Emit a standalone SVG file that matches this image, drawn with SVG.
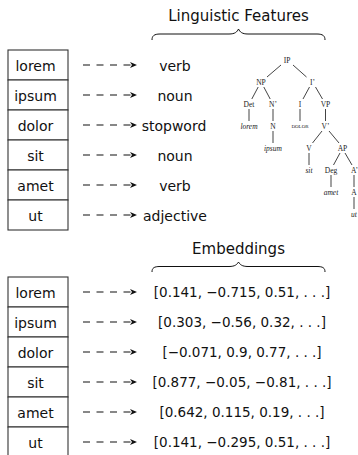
<svg xmlns="http://www.w3.org/2000/svg" width="358" height="455" viewBox="0 0 358 455">
<defs>
<marker id="ah" viewBox="-7 -3.5 7 7" refX="0" refY="0" markerWidth="7" markerHeight="7" markerUnits="userSpaceOnUse" orient="auto">
<path d="M-7,-3 L0,0 L-7,3 L-5,0 Z" fill="#111"/>
</marker>
</defs>
<style>
.cell{fill:#fff;stroke:#333;stroke-width:1.1}
.w{font-family:"DejaVu Sans",sans-serif;font-size:14px;fill:#111;text-anchor:middle}
.title{font-family:"DejaVu Sans",sans-serif;font-size:15px;fill:#111;text-anchor:middle}
.vec{font-family:"DejaVu Sans",sans-serif;font-size:13.5px;fill:#111;text-anchor:middle}
.arr{stroke:#111;stroke-width:1.1;stroke-dasharray:7 6.5;fill:none;marker-end:url(#ah)}
.brace{fill:none;stroke:#111;stroke-width:1}
.t{font-family:"Liberation Serif",serif;font-size:7.5px;fill:#222;text-anchor:middle}
.ti{font-family:"Liberation Serif",serif;font-size:7.5px;font-style:italic;fill:#222;text-anchor:middle}
.tsc{font-family:"Liberation Serif",serif;font-size:5px;fill:#222;text-anchor:middle}
.e{stroke:#222;stroke-width:0.85;fill:none}
</style>

<text class="title" x="238.5" y="21">Linguistic Features</text>
<path class="brace" d="M152,40 C152,36 154,34 160,34 L229,34 C235,34 237,32 238.5,29 C240,32 242,34 248,34 L317,34 C323,34 325,36 325,40"/>
<text class="title" x="238.5" y="254">Embeddings</text>
<path class="brace" d="M152,272 C152,268 154,266.5 160,266.5 L229,266.5 C235,266.5 237,264.5 238.5,262 C240,264.5 242,266.5 248,266.5 L317,266.5 C323,266.5 325,268 325,272"/>

<g id="word-top-lorem"><rect class="cell" x="8" y="50" width="60" height="30"/><text class="w" x="35.5" y="70.5">lorem</text></g>
<g id="word-top-ipsum"><rect class="cell" x="8" y="80" width="60" height="30"/><text class="w" x="35.5" y="100.5">ipsum</text></g>
<g id="word-top-dolor"><rect class="cell" x="8" y="110" width="60" height="30"/><text class="w" x="35.5" y="130.5">dolor</text></g>
<g id="word-top-sit"><rect class="cell" x="8" y="140" width="60" height="30"/><text class="w" x="35.5" y="160.5">sit</text></g>
<g id="word-top-amet"><rect class="cell" x="8" y="170" width="60" height="30"/><text class="w" x="35.5" y="190.5">amet</text></g>
<g id="word-top-ut"><rect class="cell" x="8" y="200" width="60" height="30"/><text class="w" x="35.5" y="220.5">ut</text></g>

<g id="feat-verb"><text class="w" x="175" y="70.5">verb</text></g>
<g id="feat-noun1"><text class="w" x="175" y="100.5">noun</text></g>
<g id="feat-stopword"><text class="w" x="174" y="130.5">stopword</text></g>
<g id="feat-noun2"><text class="w" x="175" y="160.5">noun</text></g>
<g id="feat-verb2"><text class="w" x="175" y="190.5">verb</text></g>
<g id="feat-adjective"><text class="w" x="175" y="220.5">adjective</text></g>

<g id="word-bot-lorem"><rect class="cell" x="8" y="277" width="60" height="30"/><text class="w" x="35.5" y="297.5">lorem</text></g>
<g id="word-bot-ipsum"><rect class="cell" x="8" y="307" width="60" height="30"/><text class="w" x="35.5" y="327.5">ipsum</text></g>
<g id="word-bot-dolor"><rect class="cell" x="8" y="337" width="60" height="30"/><text class="w" x="35.5" y="357.5">dolor</text></g>
<g id="word-bot-sit"><rect class="cell" x="8" y="367" width="60" height="30"/><text class="w" x="35.5" y="387.5">sit</text></g>
<g id="word-bot-amet"><rect class="cell" x="8" y="397" width="60" height="30"/><text class="w" x="35.5" y="417.5">amet</text></g>
<g id="word-bot-ut"><rect class="cell" x="8" y="427" width="60" height="31"/><text class="w" x="35.5" y="447.5">ut</text></g>

<g id="emb-lorem"><text class="vec" x="242" y="297">[0.141, −0.715, 0.51, . . .]</text></g>
<g id="emb-ipsum"><text class="vec" x="242" y="327">[0.303, −0.56, 0.32, . . .]</text></g>
<g id="emb-dolor"><text class="vec" x="242" y="357">[−0.071, 0.9, 0.77, . . .]</text></g>
<g id="emb-sit"><text class="vec" x="242" y="387">[0.877, −0.05, −0.81, . . .]</text></g>
<g id="emb-amet"><text class="vec" x="242" y="417">[0.642, 0.115, 0.19, . . .]</text></g>
<g id="emb-ut"><text class="vec" x="242" y="447">[0.141, −0.295, 0.51, . . .]</text></g>

<g id="tree-IP"><text class="t" x="287" y="62.5">IP</text></g>
<g id="tree-NP"><text class="t" x="261" y="84.5">NP</text></g>
<g id="tree-Ibar"><text class="t" x="312.5" y="84.5">I’</text></g>
<g id="tree-Det"><text class="t" x="249" y="106.5">Det</text></g>
<g id="tree-Nbar"><text class="t" x="273" y="106.5">N’</text></g>
<g id="tree-I"><text class="t" x="300" y="106.5">I</text></g>
<g id="tree-VP"><text class="t" x="325.5" y="106.5">VP</text></g>
<g id="tree-lorem"><text class="ti" x="249" y="128.5">lorem</text></g>
<g id="tree-N"><text class="t" x="273" y="128.5">N</text></g>
<g id="tree-DOLOR"><text class="tsc" x="300" y="128">DOLOR</text></g>
<g id="tree-Vbar"><text class="t" x="325.5" y="128.5">V’</text></g>
<g id="tree-ipsum"><text class="ti" x="273" y="150.5">ipsum</text></g>
<g id="tree-V"><text class="t" x="309" y="150.5">V</text></g>
<g id="tree-AP"><text class="t" x="342.5" y="150.5">AP</text></g>
<g id="tree-sit"><text class="ti" x="309" y="172.5">sit</text></g>
<g id="tree-Deg"><text class="t" x="331" y="172.5">Deg</text></g>
<g id="tree-Abar"><text class="t" x="354.5" y="172.5">A’</text></g>
<g id="tree-amet"><text class="ti" x="331" y="194.5">amet</text></g>
<g id="tree-A"><text class="t" x="354" y="194.5">A</text></g>
<g id="tree-ut"><text class="ti" x="354" y="216.5">ut</text></g>

<g id="connectors">
<line class="arr" x1="83" y1="65" x2="137" y2="65"/>
<line class="arr" x1="83" y1="95" x2="137" y2="95"/>
<line class="arr" x1="83" y1="125" x2="137" y2="125"/>
<line class="arr" x1="83" y1="155" x2="137" y2="155"/>
<line class="arr" x1="83" y1="185" x2="137" y2="185"/>
<line class="arr" x1="83" y1="215" x2="137" y2="215"/>
<line class="arr" x1="83" y1="292" x2="137" y2="292"/>
<line class="arr" x1="83" y1="322" x2="137" y2="322"/>
<line class="arr" x1="83" y1="352" x2="137" y2="352"/>
<line class="arr" x1="83" y1="382" x2="137" y2="382"/>
<line class="arr" x1="83" y1="412" x2="137" y2="412"/>
<line class="arr" x1="83" y1="442" x2="137" y2="442"/>
<path class="e" d="M281,65 L267,77 M293,65 L306.5,77 M258.2,87 L251.8,99 M263.8,87 L270.2,99 M309.5,87 L303,99 M315.5,87 L322.5,99 M249,109 V121 M273,109 V121 M300,109 V121 M325.5,109 V121 M273,131 V143 M322,131 L312.5,143 M329,131 L339,143 M309,153 V165 M340,153 L333.5,165 M345,153 L352,165 M331,175 V187 M354,175 V187 M354,197 V209"/>
</g>
</svg>
